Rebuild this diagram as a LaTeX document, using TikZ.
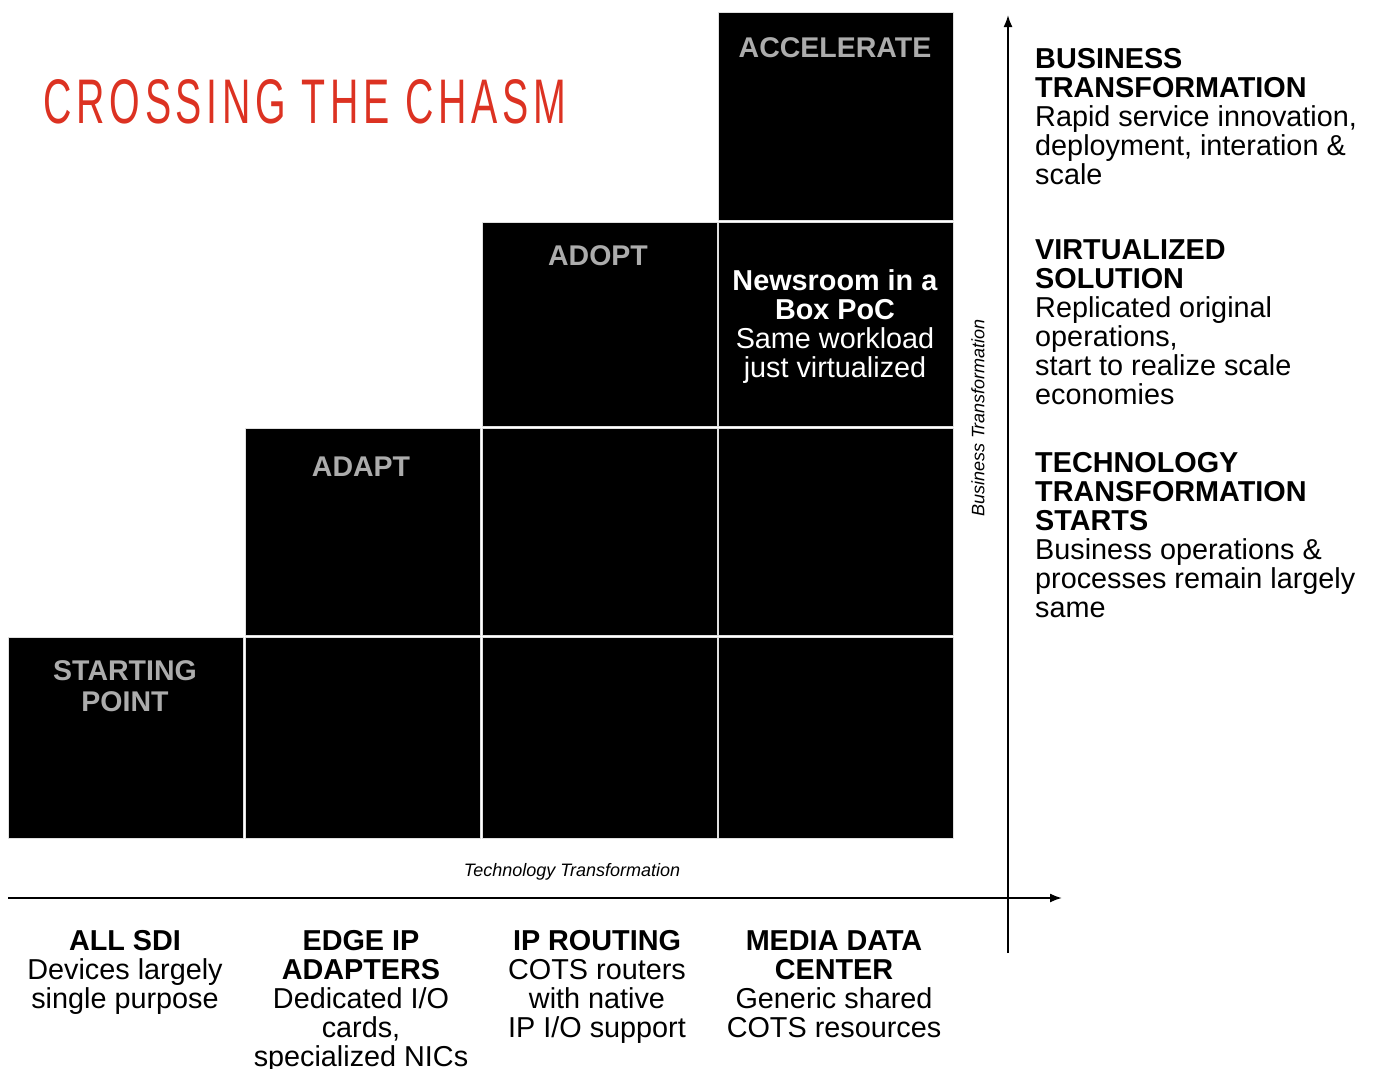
\documentclass[tikz,border=0pt]{standalone}
\usepackage{fontspec}
\setmainfont{Liberation Sans}
\newfontfamily\titlefont[LetterSpace=12.0]{Liberation Sans}
\usetikzlibrary{arrows.meta}
\definecolor{chasmred}{RGB}{220,50,34}
\definecolor{labelgray}{RGB}{172,172,172}
\begin{document}
\begin{tikzpicture}[x=1pt,y=-1pt,
  cell/.style={fill=black, draw=gray!25, line width=0.8pt, inner sep=0pt, anchor=north west, minimum width=235pt},
  celllabel/.style={text=labelgray, font=\fontsize{28.5}{31}\selectfont\bfseries, align=center, inner sep=0pt, anchor=north},
  body/.style={font=\fontsize{28.8}{29}\selectfont, inner sep=0pt},
  sidetext/.style={body, align=left, anchor=north west},
  bottomtext/.style={body, align=center, anchor=north},
  axislabel/.style={font=\fontsize{18}{20}\selectfont\itshape, inner sep=0pt},
  axis/.style={line width=1.8pt, -{Latex[length=12pt,width=9pt]}}
]
\useasboundingbox (0,0) rectangle (1375,1068);

% title
\node[text=chasmred, inner sep=0pt] (title) at (305,102)
  {\resizebox{523pt}{44pt}{\titlefont CROSSING THE CHASM}};

% cells
\node[cell, minimum height=201pt] (c00) at (8,637) {};
\node[cell, minimum height=201pt] (c01) at (245,637) {};
\node[cell, minimum height=201pt] (c02) at (482,637) {};
\node[cell, minimum height=201pt] (c03) at (718,637) {};
\node[cell, minimum height=207pt] (c11) at (245,428) {};
\node[cell, minimum height=207pt] (c12) at (482,428) {};
\node[cell, minimum height=207pt] (c13) at (718,428) {};
\node[cell, minimum height=204pt] (c22) at (482,222) {};
\node[cell, minimum height=204pt] (c23) at (718,222) {};
\node[cell, minimum height=208pt] (c33) at (718,12) {};

% cell labels
\node[celllabel] (lstart) at (125,660) {STARTING\\POINT};
\node[celllabel] (ladapt) at (361,457) {ADAPT};
\node[celllabel] (ladopt) at (598,245) {ADOPT};
\node[celllabel] (laccel) at (835,37) {ACCELERATE};
\node[bottomtext, text=white] (lnews) at (835,269)
  {\textbf{Newsroom in a}\\\textbf{Box PoC}\\Same workload\\just virtualized};

% side texts
\node[sidetext] (sbiz) at (1035,48)
  {\textbf{BUSINESS}\\\textbf{TRANSFORMATION}\\Rapid service innovation,\\deployment, interation \&\\scale};
\node[sidetext] (svirt) at (1035,239)
  {\textbf{VIRTUALIZED}\\\textbf{SOLUTION}\\Replicated original\\operations,\\start to realize scale\\economies};
\node[sidetext] (stech) at (1035,452)
  {\textbf{TECHNOLOGY}\\\textbf{TRANSFORMATION}\\\textbf{STARTS}\\Business operations \&\\processes remain largely\\same};

% bottom texts
\node[bottomtext] (bsdi) at (125,930)
  {\textbf{ALL SDI}\\Devices largely\\single purpose};
\node[bottomtext] (bedge) at (361,930)
  {\textbf{EDGE IP}\\\textbf{ADAPTERS}\\Dedicated I/O\\cards,\\specialized NICs};
\node[bottomtext] (biprt) at (597,930)
  {\textbf{IP ROUTING}\\COTS routers\\with native\\IP I/O support};
\node[bottomtext] (bmedia) at (834,930)
  {\textbf{MEDIA DATA}\\\textbf{CENTER}\\Generic shared\\COTS resources};

% axes
\coordinate (hstart) at (8,898);
\coordinate (hend) at (1062,898);
\coordinate (vstart) at (1008,953);
\coordinate (vend) at (1008,15);
\draw[axis] (hstart) -- (hend);
\draw[axis] (vstart) -- (vend);
\node[axislabel] (tlabel) at (572,872) {Technology Transformation};
\node[axislabel, rotate=90] (blabel) at (978,418) {Business Transformation};
\end{tikzpicture}
\end{document}
